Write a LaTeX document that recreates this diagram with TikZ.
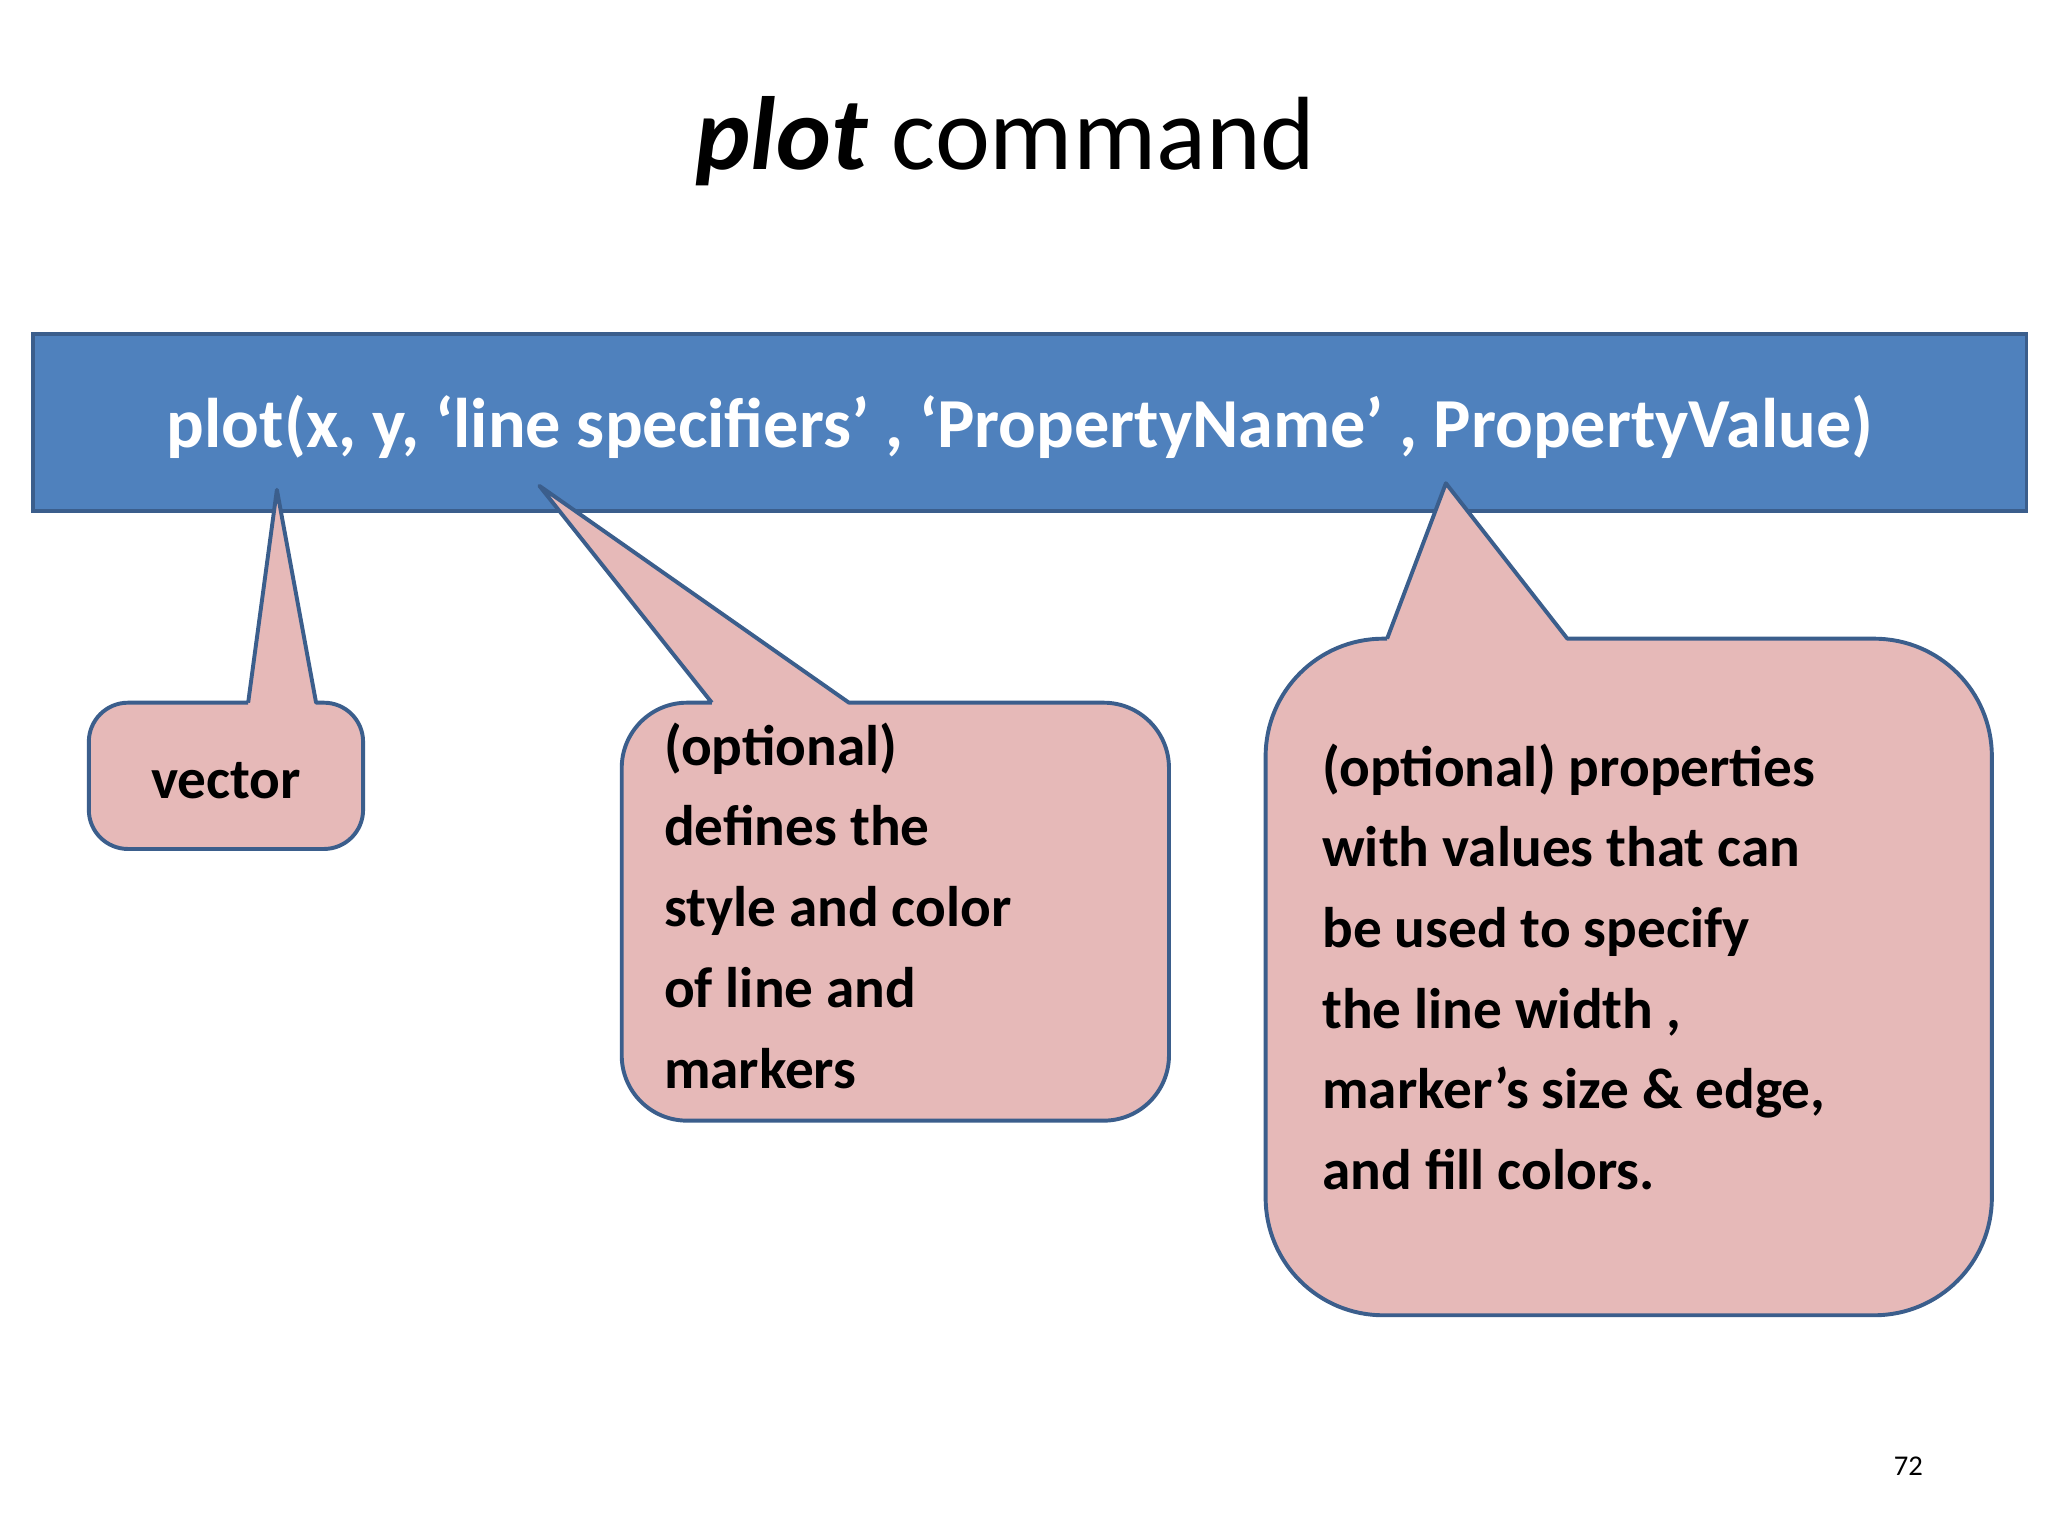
\documentclass[tikz,border=0pt]{standalone}
\usepackage{fontspec}
\setmainfont{Carlito}
\definecolor{bluefill}{HTML}{4F81BD}
\definecolor{edge}{HTML}{3B5E8C}
\definecolor{pinkfill}{HTML}{E6B9B8}
\tikzset{
  callout/.style={fill=pinkfill,draw=edge,line width=1.5bp,line join=round},
  ctext/.style={font=\fontsize{22}{31}\selectfont\bfseries,align=left,inner sep=0pt,anchor=north west}
}
\begin{document}
\begin{tikzpicture}[x=0.5bp,y=-0.5bp]
\useasboundingbox[fill=white] (0,0) rectangle (1568,1176);
\node[font=\fontsize{40}{48}\selectfont,anchor=base,inner sep=0pt] (title) at (770,130) {\textbf{\textit{plot}} command};
\node[fill=bluefill,draw=edge,line width=1.5bp,minimum width=763bp,minimum height=68bp,anchor=north west,inner sep=0pt] (cmd) at (24,254) {};
\node[font=\fontsize{27}{32}\selectfont\bfseries,text=white,anchor=base,inner sep=0pt] (cmdtext) at (781,343) {plot(x, y, ‘line specifiers’ , ‘PropertyName’ , PropertyValue)};
% callouts
\draw[callout] (190,538) -- (212,375) -- (242,538) [rounded corners=15bp] -- (278,538) -- (278,650) -- (68,650) -- (68,538) -- (190,538);
\draw[callout] (545,538) -- (413,372) -- (650,538) [rounded corners=25bp] -- (895,538) -- (895,858) -- (476,858) -- (476,538) -- (545,538);
\draw[callout] (1062,489) -- (1107,370) -- (1200,489) [rounded corners=45bp] -- (1525,489) -- (1525,1007) -- (969,1007) -- (969,489) -- (1062,489);
\node[font=\fontsize{22}{31}\selectfont\bfseries,anchor=base,inner sep=0pt] (vec) at (173,611) {vector};
\node[ctext] (mid) at (508,553) {(optional)\\defines the\\style and color\\of line and\\markers};
\node[ctext] (right) at (1012,569) {(optional) properties\\with values that can\\be used to specify\\the line width ,\\marker’s size \& edge,\\and fill colors.};
\node[font=\fontsize{11}{13}\selectfont,anchor=base,inner sep=0pt] (pg) at (1461,1130) {72};
\end{tikzpicture}
\end{document}
